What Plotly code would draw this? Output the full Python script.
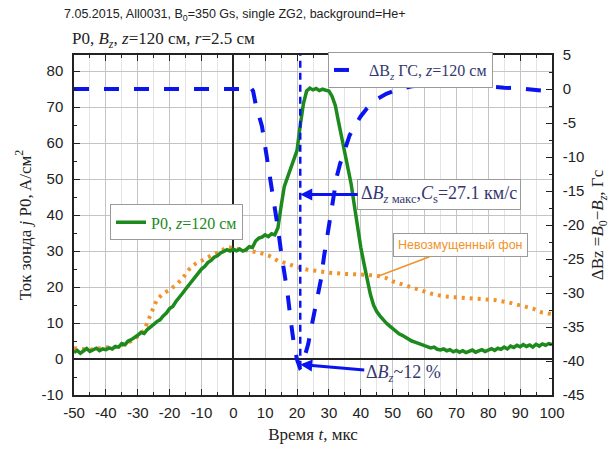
import plotly.graph_objects as go

# --- Probe current P0, A/cm^2 (left axis) ---
p0_t = list(range(-50, 101))
p0_j = [
    1.8, 2.4, 1.6, 2.2, 2.9, 2.1, 2.6, 3.0, 2.3, 2.8,            # -50..-41
    2.6, 3.1, 2.8, 3.5, 3.3, 4.3, 4.0, 5.0, 5.4, 5.9,            # -40..-31
    6.6, 7.4, 7.1, 8.2, 8.8, 9.6, 10.4, 10.9, 12.0, 12.8,        # -30..-21
    14.0, 14.6, 16.0, 17.0, 18.2, 19.4, 20.6, 21.5, 22.8, 23.9,  # -20..-11
    25.0, 25.7, 26.8, 27.4, 28.3, 28.7, 29.5, 29.9, 30.4, 30.0,  # -10..-1
    30.5, 30.1, 30.6, 30.0, 30.4, 31.2, 31.0, 32.8, 33.6, 33.9,  # 0..9
    34.5, 34.0, 34.8, 34.5, 36.5, 42.5, 48.0, 50.5, 53.0, 55.5,  # 10..19
    58.0, 65.0, 71.0, 74.5, 75.3, 74.8, 75.2, 74.6, 75.0, 74.7,  # 20..29
    74.5, 73.0, 70.5, 66.0, 61.5, 57.0, 53.0, 48.5, 42.5, 36.0,  # 30..39
    31.0, 26.5, 22.0, 18.0, 15.0, 13.2, 12.0, 10.8, 10.0, 9.2,   # 40..49
    8.4, 7.8, 7.0, 6.6, 6.0, 5.6, 5.0, 4.7, 4.3, 4.0,            # 50..59
    3.7, 3.4, 3.1, 3.3, 2.7, 2.5, 2.8, 2.3, 2.6, 2.0,            # 60..69
    2.4, 1.9, 2.3, 1.8, 2.2, 2.5, 1.9, 2.3, 2.6, 2.1,            # 70..79
    2.5, 2.9, 2.4, 3.0, 2.7, 3.3, 2.8, 3.6, 3.2, 3.8,            # 80..89
    3.4, 4.0, 3.5, 3.9, 3.3, 4.1, 3.6, 4.2, 3.8, 4.3, 4.0,       # 90..100
]

# --- Unperturbed background current (left axis) ---
bg_t = [-50, -45, -40, -36, -32, -30, -28, -26, -24, -22, -20, -18, -16, -14,
        -12, -10, -8, -6, -4, -2, 0, 2, 5, 8, 11, 14, 17, 20, 23, 26, 30, 34,
        38, 42, 46, 48, 50, 54, 58, 62, 66, 70, 74, 78, 82, 86, 90, 94, 97, 100]
bg_j = [3.0, 2.6, 3.2, 3.4, 5.0, 6.3, 8.0, 12.5, 16.5, 18.2, 19.2, 20.6, 22.3,
        24.8, 26.4, 27.3, 28.3, 29.2, 29.8, 31.2, 30.8, 30.5, 30.2, 29.6, 28.8,
        27.3, 26.5, 25.5, 24.9, 24.4, 24.0, 23.7, 23.6, 23.4, 23.0, 22.5, 21.6,
        20.5, 19.3, 18.2, 17.4, 17.2, 17.0, 16.7, 16.4, 15.8, 15.0, 14.0, 12.9,
        12.5]

# --- Magnetic field perturbation dBz, Gs (right axis) ---
db_t = [-50, 0, 4, 5.2, 6.2, 7, 8, 9, 10, 11, 12, 13, 14, 15, 16, 17, 18, 19,
        20, 20.9, 21.5, 22.5, 23.5, 24.5, 25.5, 26.5, 27.5, 28.5, 29.5, 30.5,
        31.5, 32.5, 33.5, 35, 36.5, 38, 40, 42, 45, 48, 52, 56, 60, 65, 70, 75,
        80, 85, 90, 95, 100]
db_gs = [0, 0, 0, 0.4, -0.3, -2.2, -3.8, -5.5, -8.5, -11.5, -14.5, -17.0,
         -20.5, -24.0, -27.0, -30.0, -34.0, -37.5, -39.8, -41.0, -40.8, -39.2,
         -37.5, -35.0, -32.8, -30.5, -28.0, -24.5, -21.5, -18.5, -15.5, -12.8,
         -11.0, -8.7, -6.8, -5.5, -4.0, -2.8, -1.5, -0.7, 0.0, 0.4, 0.6, 0.8,
         0.7, 0.5, 0.3, 0.2, 0.1, -0.1, -0.4]

# time of the dBz minimum, and the value marked by the arrows
dbmin_t = 21
dbmin_gs = -41
cs_label_j = 45.7
bg_label_t = 45.4
bg_label_j = 23.0

x_ticks = list(range(-50, 101, 10))
left_ticks = list(range(-10, 81, 10))
right_ticks = list(range(-45, 6, 5))

SERIF = "Liberation Serif"
SANS = "Liberation Sans"
BLUE = "#0a14ee"
GREEN = "#1c8a1c"
ORANGE = "#f2922a"
NAVY = "#34386e"

fig = go.Figure()

fig.add_trace(go.Scatter(
    x=bg_t, y=bg_j, mode="lines", showlegend=False,
    line=dict(color=ORANGE, width=4, dash="3px,5px"),
))
fig.add_trace(go.Scatter(
    x=p0_t, y=p0_j, mode="lines", name="P0, <i>z</i>=120 см",
    line=dict(color=GREEN, width=3.5), legend="legend2",
))
fig.add_trace(go.Scatter(
    x=db_t, y=db_gs, mode="lines", yaxis="y2",
    name="ΔB<sub><i>z</i></sub> ГС, <i>z</i>=120 см",
    line=dict(color=BLUE, width=4, dash="15px,15px"), legend="legend",
))

# vertical marker at the dBz minimum
fig.add_shape(type="line", xref="x", yref="y2", x0=dbmin_t, x1=dbmin_t,
              y0=dbmin_gs, y1=5, line=dict(color=BLUE, width=2.5, dash="7px,5px"))

fig.add_annotation(
    x=dbmin_t, y=cs_label_j, xref="x", yref="y", ax=139, ay=0,
    text="Δ<i>B</i><sub><i>z</i> макс</sub>,<i>C</i><sub>s</sub>=27.1 км/с",
    font=dict(family=SERIF, size=18, color=NAVY),
    showarrow=True, arrowhead=2, arrowsize=0.8, arrowwidth=3, arrowcolor=BLUE,
    bgcolor="white", bordercolor="#9a9a9a", borderwidth=1, borderpad=3,
)
fig.add_annotation(
    x=dbmin_t, y=dbmin_gs + 0.5, xref="x", yref="y2", ax=103, ay=9,
    text="Δ<i>B</i><sub><i>z</i></sub>~12 %",
    font=dict(family=SERIF, size=18, color=NAVY),
    showarrow=True, arrowhead=2, arrowsize=0.8, arrowwidth=3, arrowcolor=BLUE,
)
fig.add_annotation(
    x=bg_label_t, y=bg_label_j, xref="x", yref="y", ax=82, ay=-31,
    text="Невозмущенный фон",
    font=dict(family=SANS, size=12.5, color=ORANGE),
    showarrow=True, arrowhead=0, arrowwidth=1.5, arrowcolor=ORANGE,
    bgcolor="white", bordercolor="#9a9a9a", borderwidth=1, borderpad=4,
)

# headers above the plot
fig.add_annotation(
    x=62, y=453 - 14, xref="paper", yref="paper", showarrow=False,
    text="7.05.2015, All0031, B<sub>0</sub>=350 Gs, single ZG2, background=He+",
    font=dict(family=SANS, size=12.5, color="#222"), xanchor="left", yanchor="middle",
)
fig.add_annotation(
    x=70, y=453 - 40, xref="paper", yref="paper", showarrow=False,
    text="P0, <i>B</i><sub><i>z</i></sub>, <i>z</i>=120 см, <i>r</i>=2.5 см",
    font=dict(family=SERIF, size=17, color="#222"), xanchor="left", yanchor="middle",
)

W, H = 616, 453
L, R, T, B = 74, 64, 55, 52
pw, ph = W - L - R, H - T - B
# convert header pixel positions into paper coordinates
for a in fig.layout.annotations:
    if a.xref == "paper":
        a.x = (a.x - L) / pw
        a.y = (a.y - B) / ph

tickfont = dict(family=SANS, size=15, color="#222")
fig.update_layout(
    width=W, height=H,
    margin=dict(l=L, r=R, t=T, b=B),
    paper_bgcolor="white", plot_bgcolor="white",
    xaxis=dict(
        range=[-50, 100], tickvals=x_ticks, ticktext=[str(v) for v in x_ticks],
        ticks="inside", ticklen=6,
        tickwidth=1, tickcolor="#222", showline=True, linecolor="#222",
        linewidth=1.5, mirror="ticks", showgrid=True, gridcolor="#c4c4c4",
        gridwidth=1, zeroline=True, zerolinecolor="#222", zerolinewidth=1.5,
        minor=dict(dtick=5, ticks="inside", ticklen=3, tickcolor="#222",
                   showgrid=True, gridcolor="#e4e4e4", gridwidth=1),
        tickfont=tickfont, ticklabelstandoff=3,
        title=dict(text="Время <i>t</i>, мкс",
                   font=dict(family=SERIF, size=17, color="#222"), standoff=8),
    ),
    yaxis=dict(
        range=[-10, 84.5], tickvals=left_ticks,
        ticktext=[str(v) for v in left_ticks], ticks="inside", ticklen=6,
        tickcolor="#222", showline=True, linecolor="#222", linewidth=1.5,
        showgrid=True, gridcolor="#c4c4c4", zeroline=True,
        zerolinecolor="#222", zerolinewidth=1.5,
        minor=dict(dtick=5, ticks="inside", ticklen=3, tickcolor="#222",
                   showgrid=False),
        tickfont=tickfont, ticklabelstandoff=6,
        title=dict(text="Ток зонда <i>j</i> P0, A/см<sup>2</sup>",
                   font=dict(family=SERIF, size=17, color="#222"), standoff=6),
    ),
    yaxis2=dict(
        range=[-45, 5], tickvals=right_ticks,
        ticktext=[str(v) for v in right_ticks], overlaying="y", side="right",
        ticks="inside", ticklen=6, tickcolor="#222", showline=True,
        linecolor="#222", linewidth=1.5, showgrid=False, zeroline=False,
        minor=dict(dtick=2.5, ticks="inside", ticklen=3, tickcolor="#222"),
        tickfont=tickfont, ticklabelstandoff=6,
        title=dict(text="ΔBz =<i>B</i><sub>0</sub>−<i>B</i><sub><i>z</i></sub>, Гс",
                   font=dict(family=SERIF, size=17, color="#222"), standoff=8),
    ),
    legend=dict(
        x=(328 - L) / pw, y=(H - B - 52) / ph, xanchor="left", yanchor="top",
        bgcolor="white", bordercolor="#9a9a9a", borderwidth=1,
        font=dict(family=SERIF, size=16, color=NAVY),
    ),
    legend2=dict(
        x=(110 - L) / pw, y=(H - B - 207) / ph, xanchor="left", yanchor="top",
        bgcolor="white", bordercolor="#9a9a9a", borderwidth=1,
        font=dict(family=SERIF, size=16, color=GREEN),
    ),
)

fig.write_html("out.html")
